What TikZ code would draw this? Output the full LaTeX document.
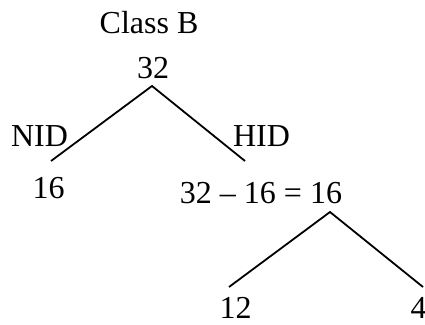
\documentclass[tikz,border=0pt]{standalone}
\usepackage{fontspec}
\setmainfont{Liberation Serif}
\begin{document}
\begin{tikzpicture}[x=1pt,y=-1pt,
  lbl/.style={inner sep=0pt,anchor=base,font=\fontsize{32}{38}\selectfont},
  branch/.style={line width=1.8pt,line cap=butt}]
\useasboundingbox (0,0) rectangle (425,324);
\clip (0,0) rectangle (425,324);
\node[lbl] (classb) at (149,33) {Class B};
\node[lbl] (top) at (153,78) {32};
\node[lbl] (nid) at (39.5,146) {NID};
\node[lbl] (hid) at (261.5,146) {HID};
\node[lbl] (left) at (48.5,198) {16};
\node[lbl] (eq) at (261,203) {32 -- 16 = 16};
\node[lbl] (twelve) at (235.5,318) {12};
\node[lbl] (four) at (418.5,318) {4};
\coordinate (a1) at (152,86);
\coordinate (l1) at (51,161);
\coordinate (r1) at (245,161);
\coordinate (a2) at (330,212);
\coordinate (l2) at (229,287);
\coordinate (r2) at (423,287);
\draw[branch] (l1) -- (a1) -- (r1);
\draw[branch] (l2) -- (a2) -- (r2);
\end{tikzpicture}
\end{document}
